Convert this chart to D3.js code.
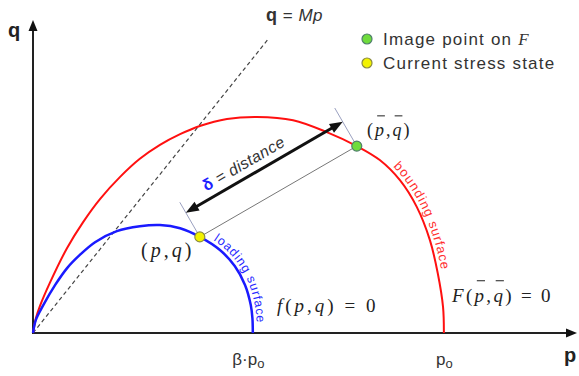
<!DOCTYPE html>
<html>
<head>
<meta charset="utf-8">
<script src="https://cdn.jsdelivr.net/npm/d3@7"></script>
<style>
  body { margin: 0; background: #fff; }
  svg { display: block; }
</style>
</head>
<body>
<div id="chart"></div>
<script>
// surfaces, p and q in units of po
var boundingP = [0, 0.007, 0.017, 0.041, 0.083, 0.122, 0.163, 0.212, 0.260, 0.309, 0.358, 0.406, 0.472, 0.545, 0.633, 0.715, 0.788, 0.844, 0.893, 0.934, 0.966, 0.985, 0.998, 1.0]
var boundingQ = [0, 0.036, 0.066, 0.122, 0.207, 0.270, 0.326, 0.380, 0.424, 0.458, 0.484, 0.504, 0.521, 0.526, 0.518, 0.489, 0.455, 0.421, 0.372, 0.307, 0.226, 0.146, 0.063, 0]
var loadingP = [0, 0.007, 0.024, 0.054, 0.083, 0.114, 0.151, 0.204, 0.260, 0.309, 0.358, 0.406, 0.455, 0.491, 0.516, 0.530, 0.534, 0.535]
var loadingQ = [0, 0.032, 0.066, 0.117, 0.158, 0.190, 0.221, 0.248, 0.260, 0.263, 0.255, 0.234, 0.202, 0.163, 0.117, 0.068, 0.036, 0]

var beta = 0.535
var M = 1.25
var csl = [0, 0.572]            // p range of the q = Mp line
var currentState = [0.406, 0.234]
var imagePoint = [0.788, 0.455]
var tickValues = [beta, 1]
var tickLabels = ["β·p", "p"]
var legendLabels = ["Image point on ", "Current stress state"]

var width = 579, height = 376
var serif = "'Liberation Serif', 'DejaVu Serif', serif"
var sans = "'Liberation Sans', Arial, sans-serif"

var x = d3.scaleLinear().domain([0, 1.324]).range([33, 577])
var y = d3.scaleLinear().domain([0, 0.762]).range([333, 20])

var svg = d3.select("#chart").append("svg")
    .attr("width", width)
    .attr("height", height)

var line = d3.line()
    .x(d => x(d[0]))
    .y(d => y(d[1]))
    .curve(d3.curveCatmullRom.alpha(0.5))

var bounding = d3.zip(boundingP, boundingQ)
var loading = d3.zip(loadingP, loadingQ)

// axes: tick labels through d3 axis, lines with arrow heads drawn by hand
var xAxis = svg.append("g")
    .attr("transform", "translate(0," + y(0) + ")")
    .call(d3.axisBottom(x).tickValues(tickValues).tickSize(0).tickPadding(20))
xAxis.select(".domain").remove()
xAxis.selectAll("text")
    .style("font-family", sans)
    .style("font-size", "17px")
    .attr("fill", "#333")
    .attr("dx", (d, i) => i ? 0 : -5)
    .text(null)
    .each(function (d, i) {
        var t = d3.select(this)
        t.append("tspan").text(tickLabels[i])
        t.append("tspan").text("o").attr("dy", "0.22em").style("font-size", "13px")
    })

svg.append("line")
    .attr("x1", x(0)).attr("y1", y(0))
    .attr("x2", x(0)).attr("y2", y(0.762) + 8)
    .attr("stroke", "#222").attr("stroke-width", 2)
svg.append("line")
    .attr("x1", x(0) - 1).attr("y1", y(0))
    .attr("x2", x(1.324) - 8).attr("y2", y(0))
    .attr("stroke", "#222").attr("stroke-width", 2)
svg.append("path")
    .attr("d", "M" + x(0) + "," + y(0.762) + "l-4.5,11h9z")
    .attr("fill", "#111")
svg.append("path")
    .attr("d", "M" + x(1.324) + "," + y(0) + "l-11,-4.5v9z")
    .attr("fill", "#111")

svg.append("text").attr("x", 14).attr("y", 37)
    .attr("text-anchor", "middle")
    .style("font-family", sans).style("font-size", "20px").style("font-weight", "bold")
    .attr("fill", "#222").text("q")
svg.append("text").attr("x", 570).attr("y", 362)
    .attr("text-anchor", "middle")
    .style("font-family", sans).style("font-size", "20px").style("font-weight", "bold")
    .attr("fill", "#222").text("p")

// critical state line
svg.append("line")
    .attr("x1", x(csl[0])).attr("y1", y(M * csl[0]))
    .attr("x2", x(csl[1])).attr("y2", y(M * csl[1]))
    .attr("stroke", "#444").attr("stroke-width", 1.2)
    .attr("stroke-dasharray", "4,3")

var qm = svg.append("text").attr("x", 266).attr("y", 21)
    .style("font-family", sans).style("font-size", "17px").attr("fill", "#333")
    .style("letter-spacing", "0.5px")
qm.append("tspan").text("q").style("font-weight", "bold").style("font-size", "18px")
qm.append("tspan").text(" = ")
qm.append("tspan").text("Mp").style("font-style", "italic")

// surfaces
svg.append("path").attr("id", "bounding")
    .attr("d", line(bounding))
    .attr("fill", "none").attr("stroke", "#ff1010").attr("stroke-width", 2)
svg.append("path").attr("id", "loading")
    .attr("d", line(loading))
    .attr("fill", "none").attr("stroke", "#1a1aff").attr("stroke-width", 2.5)

function lengthAtX(node, px) {
    var lo = 0, hi = node.getTotalLength()
    for (var k = 0; k < 40; k++) {
        var mid = (lo + hi) / 2
        if (node.getPointAtLength(mid).x < px) lo = mid; else hi = mid
    }
    return lo
}

function surfaceLabel(id, text, startX, color, size, spacing) {
    var node = svg.select("#" + id).node()
    svg.append("text")
        .attr("dy", -4)
        .style("font-family", sans).style("font-size", size + "px")
        .style("letter-spacing", spacing + "px")
        .attr("fill", color)
        .append("textPath")
        .attr("href", "#" + id)
        .attr("startOffset", lengthAtX(node, startX))
        .text(text)
}
surfaceLabel("bounding", "bounding surface", 390, "#ff3030", 13, 0.9)
surfaceLabel("loading", "loading surface", 211, "#2828ff", 12.5, 0.6)

// distance between current state and image point
var a = [x(currentState[0]), y(currentState[1])]
var b = [x(imagePoint[0]), y(imagePoint[1])]
var len = Math.hypot(b[0] - a[0], b[1] - a[1])
var u = [(b[0] - a[0]) / len, (b[1] - a[1]) / len]
var n = [u[1], -u[0]]

svg.append("line")
    .attr("x1", a[0]).attr("y1", a[1]).attr("x2", b[0]).attr("y2", b[1])
    .attr("stroke", "#777").attr("stroke-width", 1)
;[[a, 40], [b, 44]].forEach(function (e) {
    svg.append("line")
        .attr("x1", e[0][0]).attr("y1", e[0][1])
        .attr("x2", e[0][0] + n[0] * e[1]).attr("y2", e[0][1] + n[1] * e[1])
        .attr("stroke", "#9aa0c0").attr("stroke-width", 1)
})

var off = 28
var s = [a[0] + n[0] * off, a[1] + n[1] * off]
var t = [b[0] + n[0] * off, b[1] + n[1] * off]
var head = 13, half = 5
svg.append("line")
    .attr("x1", s[0] + u[0] * head * 0.8).attr("y1", s[1] + u[1] * head * 0.8)
    .attr("x2", t[0] - u[0] * head * 0.8).attr("y2", t[1] - u[1] * head * 0.8)
    .attr("stroke", "#111").attr("stroke-width", 3)
;[[s, 1], [t, -1]].forEach(function (e) {
    var p = e[0], d = e[1]
    var bx = p[0] + u[0] * head * d, by = p[1] + u[1] * head * d
    svg.append("path")
        .attr("d", "M" + p[0] + "," + p[1] +
            "L" + (bx + n[0] * half) + "," + (by + n[1] * half) +
            "L" + (bx - n[0] * half) + "," + (by - n[1] * half) + "Z")
        .attr("fill", "#111")
})

var ang = Math.atan2(u[1], u[0]) * 180 / Math.PI
var mid = [(s[0] + t[0]) / 2 + n[0] * 8, (s[1] + t[1]) / 2 + n[1] * 8]
var dl = svg.append("text")
    .attr("transform", "translate(" + (mid[0] - 14) + "," + (mid[1] + 8) + ") rotate(" + ang + ")")
    .attr("text-anchor", "middle")
    .style("font-family", sans).style("font-size", "16px").attr("fill", "#333")
    .style("letter-spacing", "0.4px")
dl.append("tspan").text("δ").attr("fill", "#2020ff").style("font-weight", "bold")
dl.append("tspan").text(" = distance").style("font-style", "italic")

// points
function stressPoint(px, py, fill, stroke) {
    svg.append("circle").attr("cx", px).attr("cy", py).attr("r", 5)
        .attr("fill", fill).attr("stroke", stroke).attr("stroke-width", 1.2)
}
stressPoint(b[0], b[1], "#6fdc3c", "#4f7f6a")
stressPoint(a[0], a[1], "#f2f200", "#8a8a40")

// math labels
function mathLabel(parts, px, py, size, spacing) {
    var te = svg.append("text").attr("x", px).attr("y", py)
        .style("font-family", serif).style("font-size", size + "px")
        .style("letter-spacing", spacing + "px")
        .attr("fill", "#222")
    parts.forEach(function (p) {
        te.append("tspan").text(p.t).style("font-style", p.i ? "italic" : "normal")
    })
    var node = te.node(), idx = 0
    parts.forEach(function (p) {
        if (p.bar) {
            var st = node.getStartPositionOfChar(idx)
            svg.append("line")
                .attr("x1", st.x + size * 0.12).attr("x2", st.x + size * 0.55)
                .attr("y1", py - size * 1.12).attr("y2", py - size * 1.12)
                .attr("stroke", "#333").attr("stroke-width", 1.1)
        }
        idx += p.t.length
    })
}
mathLabel([{t: "("}, {t: "p", i: 1}, {t: ","}, {t: "q", i: 1}, {t: ")"}], 141, 257, 20, 3)
mathLabel([{t: "("}, {t: "p", i: 1, bar: 1}, {t: ","}, {t: "q", i: 1, bar: 1}, {t: ")"}], 367, 136, 18, 2)
mathLabel([{t: "f", i: 1}, {t: "("}, {t: "p", i: 1}, {t: ","}, {t: "q", i: 1}, {t: ")"}, {t: " = 0"}], 277, 312, 19, 3)
mathLabel([{t: "F", i: 1}, {t: "("}, {t: "p", i: 1, bar: 1}, {t: ","}, {t: "q", i: 1, bar: 1}, {t: ")"}, {t: " = 0"}], 452, 302, 19, 2.3)

// legend
var legend = svg.append("g")
legend.selectAll("circle")
    .data(legendLabels)
    .enter().append("circle")
    .attr("cx", 367).attr("cy", (d, i) => 39 + i * 24).attr("r", 5)
    .attr("fill", (d, i) => i ? "#f2f200" : "#6fdc3c")
    .attr("stroke", (d, i) => i ? "#8a8a40" : "#4f7f6a")
    .attr("stroke-width", 1.2)
var lt = legend.selectAll("text")
    .data(legendLabels)
    .enter().append("text")
    .attr("x", 383).attr("y", (d, i) => 45 + i * 24)
    .style("font-family", sans).style("font-size", "17px").attr("fill", "#333")
    .style("letter-spacing", "1.2px")
    .text(d => d)
lt.filter((d, i) => i == 0).append("tspan")
    .text("F").style("font-family", serif).style("font-style", "italic")
</script>
</body>
</html>
